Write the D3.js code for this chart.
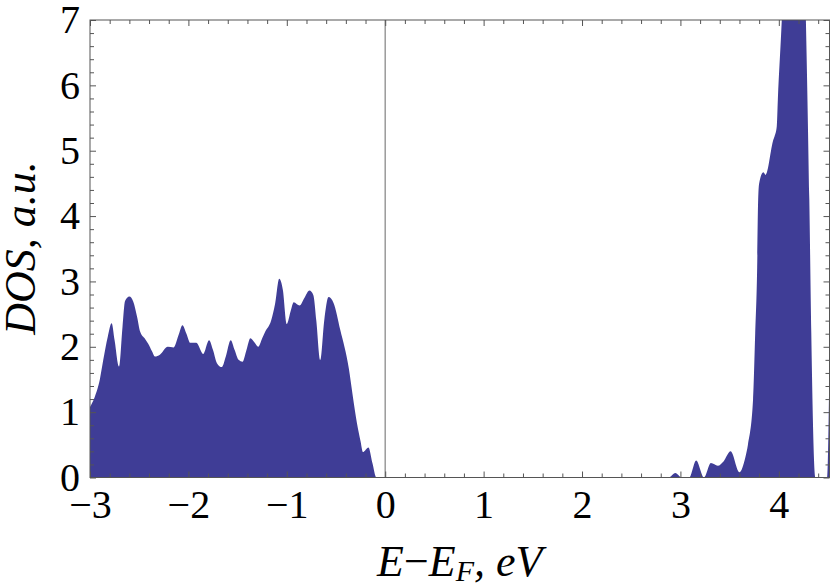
<!DOCTYPE html>
<html>
<head>
<meta charset="utf-8">
<script src="https://cdn.jsdelivr.net/npm/d3@7"></script>
<style>
  body { margin: 0; background: #fff; }
  svg { display: block; }
  text { font-family: "Liberation Serif", "Times New Roman", serif; fill: #000; }
</style>
</head>
<body>
<div id="chart"></div>
<script>
// energy (eV, relative to E_F) and density of states
var energy = [
  -3.00, -2.95, -2.90, -2.865, -2.82, -2.78, -2.75, -2.705, -2.67, -2.644,
  -2.60, -2.56, -2.52, -2.49, -2.44, -2.41, -2.37, -2.34, -2.29, -2.21,
  -2.15, -2.10, -2.06, -2.02, -1.98, -1.92, -1.85, -1.79, -1.75, -1.71,
  -1.66, -1.62, -1.57, -1.53, -1.49, -1.45, -1.41, -1.37, -1.33, -1.29,
  -1.25, -1.22, -1.16, -1.12, -1.077, -1.04, -1.00, -0.96, -0.93, -0.87,
  -0.82, -0.77, -0.73, -0.70, -0.66, -0.62, -0.576, -0.525, -0.457, -0.37,
  -0.33, -0.287, -0.25, -0.226, -0.17, -0.13, -0.09,
  0.0, 1.0, 2.0, 2.88, 2.948, 3.015, 3.09, 3.16, 3.24,
  3.31, 3.38, 3.44, 3.51, 3.60, 3.66, 3.686, 3.738, 3.76, 3.78,
  3.79, 3.80, 3.843, 3.866, 3.945, 3.957, 3.979, 3.99, 4.03, 4.08,
  4.18, 4.25, 4.275, 4.31, 4.33, 4.375, 4.49, 4.515
];
var dos = [
  1.08, 1.24, 1.50, 1.80, 2.15, 2.36, 2.10, 1.70, 2.30, 2.70,
  2.77, 2.69, 2.45, 2.23, 2.12, 2.05, 1.93, 1.85, 1.88, 2.00,
  1.99, 2.18, 2.33, 2.20, 2.06, 2.06, 1.89, 2.10, 1.95, 1.75,
  1.69, 1.85, 2.10, 1.95, 1.80, 1.77, 1.95, 2.13, 2.07, 2.00,
  2.13, 2.23, 2.40, 2.65, 3.04, 2.87, 2.35, 2.55, 2.68, 2.63,
  2.75, 2.86, 2.79, 2.40, 1.80, 2.40, 2.76, 2.67, 2.26, 1.67,
  1.25, 0.83, 0.55, 0.39, 0.46, 0.22, 0.0,
  0.0, 0.0, 0.0, 0.0, 0.07, 0.0, 0.0, 0.26, 0.0,
  0.22, 0.18, 0.25, 0.40, 0.08, 0.31, 0.50, 1.19, 2.21, 3.23,
  4.25, 4.50, 4.67, 4.63, 5.17, 5.22, 5.37, 5.78, 7.0, 9.0,
  10.0, 8.5, 7.0, 4.25, 2.21, 0.0, 0.0, 1.8
];

var xTicks = [-3, -2, -1, 0, 1, 2, 3, 4];
var yTicks = [0, 1, 2, 3, 4, 5, 6, 7];
var xTitle = ["E", "\u2212", "E", "F", ", ", "eV"];
var yTitle = "DOS, a.u.";

;(function() {
  var width = 830, height = 588;
  var pLeft = 90, pRight = 829.5, pTop = 20, pBottom = 477.5;
  var serif = '"Liberation Serif", "Times New Roman", serif';

  var svg = d3.select('#chart').append('svg')
    .attr('width', width)
    .attr('height', height);

  var x = d3.scaleLinear().domain([-3, 4.515]).range([pLeft, pRight]);
  var y = d3.scaleLinear().domain([0, 7]).range([pBottom, pTop]);

  svg.append('clipPath').attr('id', 'plotclip')
    .append('rect')
    .attr('x', pLeft).attr('y', pTop)
    .attr('width', pRight - pLeft).attr('height', pBottom - pTop);

  var pts = energy.map(function(e, i) { return [e, dos[i]]; });

  var area = d3.area()
    .x(function(d) { return x(d[0]); })
    .y0(y(0))
    .y1(function(d) { return y(d[1]); })
    .curve(d3.curveMonotoneX);

  svg.append('path')
    .datum(pts)
    .attr('clip-path', 'url(#plotclip)')
    .attr('fill', '#3f3d96')
    .attr('d', area);

  // line at the Fermi level
  svg.append('line')
    .attr('x1', x(0)).attr('x2', x(0))
    .attr('y1', pTop).attr('y2', pBottom)
    .attr('stroke', '#9a9a9a')
    .attr('stroke-width', 1.5);

  // minor ticks every 0.2
  var xMinor = d3.range(-3, 4.52, 0.2).map(function(v) { return +v.toFixed(2); })
    .filter(function(v) { return Math.abs(v - Math.round(v)) > 1e-6; });
  var yMinor = d3.range(0, 7.01, 0.2).map(function(v) { return +v.toFixed(2); })
    .filter(function(v) { return Math.abs(v - Math.round(v)) > 1e-6; });

  function styleAxis(g) {
    g.select('.domain').remove();
    g.selectAll('line').attr('stroke', '#555').attr('stroke-width', 1);
  }

  svg.append('g').attr('transform', 'translate(0,' + pBottom + ')')
    .call(d3.axisBottom(x).tickValues(xMinor).tickSize(-4).tickFormat(''))
    .call(styleAxis);
  svg.append('g').attr('transform', 'translate(0,' + pTop + ')')
    .call(d3.axisTop(x).tickValues(xMinor).tickSize(-4).tickFormat(''))
    .call(styleAxis);
  svg.append('g').attr('transform', 'translate(0,' + pTop + ')')
    .call(d3.axisTop(x).tickValues(xTicks).tickSize(-6).tickFormat(''))
    .call(styleAxis);
  svg.append('g').attr('transform', 'translate(' + pLeft + ',0)')
    .call(d3.axisLeft(y).tickValues(yMinor).tickSize(-4).tickFormat(''))
    .call(styleAxis);
  svg.append('g').attr('transform', 'translate(' + pRight + ',0)')
    .call(d3.axisRight(y).tickValues(yMinor).tickSize(-4).tickFormat(''))
    .call(styleAxis);
  svg.append('g').attr('transform', 'translate(' + pRight + ',0)')
    .call(d3.axisRight(y).tickValues(yTicks).tickSize(-6).tickFormat(''))
    .call(styleAxis);

  var fmt = function(d) { return d < 0 ? '\u2212' + Math.abs(d) : '' + d; };

  var xAxis = svg.append('g').attr('transform', 'translate(0,' + pBottom + ')')
    .call(d3.axisBottom(x).tickValues(xTicks).tickSize(-6).tickPadding(12).tickFormat(fmt))
    .call(styleAxis);
  xAxis.selectAll('text')
    .style('font-family', serif)
    .style('font-size', '40px')
    .attr('fill', '#000');

  var yAxis = svg.append('g').attr('transform', 'translate(' + pLeft + ',0)')
    .call(d3.axisLeft(y).tickValues(yTicks).tickSize(-6).tickPadding(10).tickFormat(fmt))
    .call(styleAxis);
  yAxis.selectAll('text')
    .style('font-family', serif)
    .style('font-size', '40px')
    .attr('fill', '#000');

  // frame
  svg.append('rect')
    .attr('x', pLeft).attr('y', pTop)
    .attr('width', pRight - pLeft).attr('height', pBottom - pTop)
    .attr('fill', 'none')
    .attr('stroke', '#555')
    .attr('stroke-width', 1);

  // axis titles
  var xt = svg.append('text')
    .attr('x', (pLeft + pRight) / 2)
    .attr('y', 576)
    .attr('text-anchor', 'middle')
    .style('font-family', serif)
    .style('font-size', '44px')
    .style('font-style', 'italic');
  xt.append('tspan').text(xTitle[0]);
  xt.append('tspan').style('font-style', 'normal').text(xTitle[1]);
  xt.append('tspan').text(xTitle[2]);
  xt.append('tspan').attr('dy', 5).style('font-size', '30px').text(xTitle[3]);
  xt.append('tspan').attr('dy', -5).text(xTitle[4]);
  xt.append('tspan').text(xTitle[5]);

  svg.append('text')
    .attr('transform', 'translate(35,248) rotate(-90)')
    .attr('text-anchor', 'middle')
    .style('font-family', serif)
    .style('font-size', '44px')
    .style('font-style', 'italic')
    .text(yTitle);
})();
</script>
</body>
</html>
